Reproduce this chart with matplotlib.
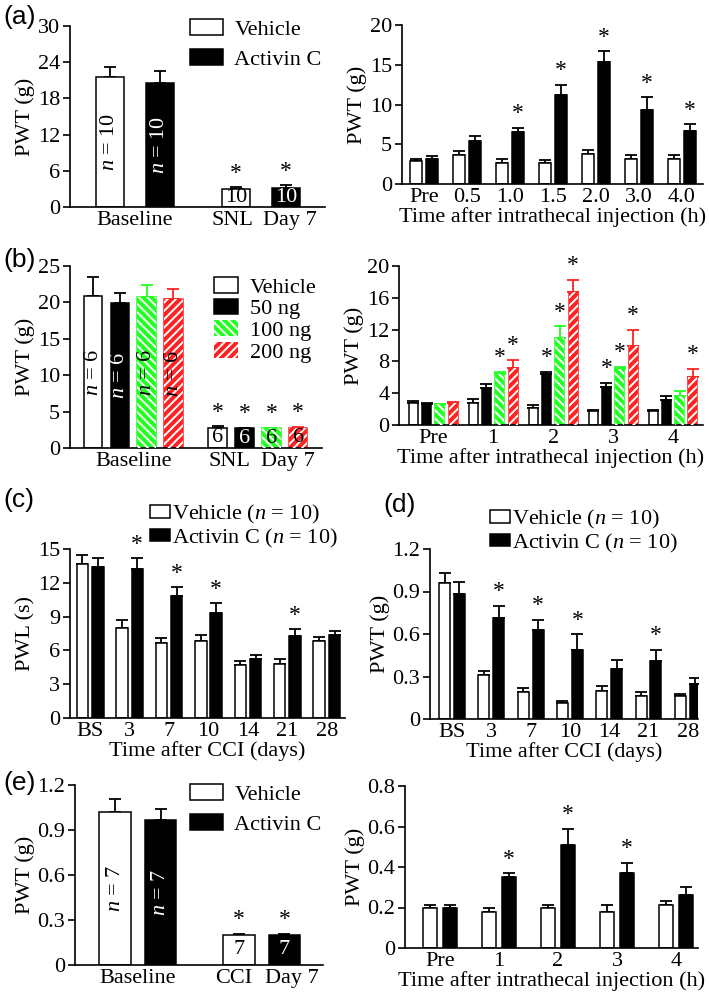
import matplotlib
matplotlib.use('Agg')
import matplotlib.pyplot as plt
from matplotlib.patches import Patch
import numpy as np

plt.rcParams['font.family'] = ['Liberation Serif', 'DejaVu Serif']
plt.rcParams['mathtext.fontset'] = 'custom'
plt.rcParams['mathtext.it'] = 'Liberation Serif:italic'
plt.rcParams['mathtext.rm'] = 'Liberation Serif'
plt.rcParams['hatch.linewidth'] = 1.4

FS = 16

# ---------------- data ----------------
# (a) left
a1_labels = ['Baseline', 'SNL', 'Day 7']
a1_veh = [21.5, 3.0]; a1_veh_err = [1.7, 0.3]
a1_act = [20.6, 3.2]; a1_act_err = [1.9, 0.4]
a1_n = 10
a1_yticks = [0, 6, 12, 18, 24, 30]
# (a) right
a2_times = ['Pre', '0.5', '1.0', '1.5', '2.0', '3.0', '4.0']
a2_veh = [2.9, 3.7, 2.7, 2.6, 3.8, 3.1, 3.2]
a2_veh_err = [0.3, 0.5, 0.4, 0.4, 0.5, 0.5, 0.4]
a2_act = [3.1, 5.4, 6.5, 11.2, 15.4, 9.3, 6.7]
a2_act_err = [0.4, 0.6, 0.6, 1.3, 1.3, 1.6, 0.8]
a2_star = [False, False, True, True, True, True, True]
a2_yticks = [0, 5, 10, 15, 20]
# (b) left
b_doses = ['Vehicle', '50 ng', '100 ng', '200 ng']
b1_base = [20.9, 19.9, 20.7, 20.4]; b1_base_err = [2.6, 1.4, 1.7, 1.4]
b1_snl = [2.8, 2.7, 2.7, 2.8]; b1_snl_err = [0.2, 0.1, 0.1, 0.1]
b1_n = 6
b1_yticks = [0, 5, 10, 15, 20, 25]
# (b) right
b2_times = ['Pre', '1', '2', '3', '4']
b2_vals = [[2.8, 2.8, 2.2, 1.7, 1.7],
           [2.7, 4.6, 6.4, 4.8, 3.2],
           [2.6, 6.4, 11.0, 7.0, 3.7],
           [2.8, 7.2, 16.7, 9.9, 6.1]]
b2_errs = [[0.2, 0.5, 0.3, 0.2, 0.2],
           [0.1, 0.6, 0.3, 0.5, 0.4],
           [0.1, 0.3, 1.4, 0.3, 0.6],
           [0.1, 1.0, 1.6, 2.1, 1.0]]
b2_star = [[False] * 5,
           [False, False, True, True, False],
           [False, True, True, True, False],
           [False, True, True, True, True]]
b2_yticks = [0, 4, 8, 12, 16, 20]
# (c)
cd_days = ['BS', '3', '7', '10', '14', '21', '28']
c_veh = [13.7, 8.0, 6.7, 6.8, 4.7, 4.8, 6.8]
c_veh_err = [0.8, 0.7, 0.4, 0.6, 0.4, 0.4, 0.4]
c_act = [13.4, 13.2, 10.8, 9.3, 5.2, 7.3, 7.4]
c_act_err = [0.8, 1.0, 0.8, 0.9, 0.4, 0.6, 0.3]
cd_star = [False, True, True, True, False, True, False]
c_yticks = [0, 3, 6, 9, 12, 15]
# (d)
d_veh = [0.96, 0.31, 0.19, 0.11, 0.20, 0.16, 0.16]
d_veh_err = [0.07, 0.03, 0.03, 0.02, 0.03, 0.03, 0.02]
d_act = [0.88, 0.71, 0.63, 0.49, 0.35, 0.41, 0.25]
d_act_err = [0.09, 0.09, 0.07, 0.11, 0.07, 0.08, 0.04]
d_yticks = [0, 0.3, 0.6, 0.9, 1.2]
d_yticklabels = ['0', '0.3', '0.6', '0.9', '1.2']
# (e) left
e1_labels = ['Baseline', 'CCI', 'Day 7']
e1_veh = [1.02, 0.20]; e1_veh_err = [0.09, 0.01]
e1_act = [0.97, 0.20]; e1_act_err = [0.07, 0.01]
e1_n = 7
# (e) right
e2_times = ['Pre', '1', '2', '3', '4']
e2_veh = [0.20, 0.18, 0.20, 0.18, 0.21]
e2_veh_err = [0.01, 0.02, 0.01, 0.03, 0.02]
e2_act = [0.20, 0.35, 0.51, 0.37, 0.26]
e2_act_err = [0.01, 0.02, 0.08, 0.05, 0.04]
e2_star = [False, True, True, True, False]
e2_yticks = [0, 0.2, 0.4, 0.6, 0.8]
e2_yticklabels = ['0', '0.2', '0.4', '0.6', '0.8']

# ---------------- styles ----------------
GREEN = '#22ff22'
RED = '#ff2222'
STY = {
    'veh': dict(fc='white', ec='black', hatch=None, err='black', txt='black'),
    'act': dict(fc='black', ec='black', hatch=None, err='black', txt='white'),
    'g': dict(fc=GREEN, ec=GREEN, hatch='\\\\\\\\', err=GREEN, txt='black'),
    'r': dict(fc=RED, ec=RED, hatch='////', err=RED, txt='black'),
}
dose_keys = ['veh', 'act', 'g', 'r']

W, H = 709, 994
fig = plt.figure(figsize=(W / 100, H / 100), dpi=100)


def add_ax(l, r, t, b):
    ax = fig.add_axes([l / W, 1 - b / H, (r - l) / W, (b - t) / H])
    for s in ['top', 'right']:
        ax.spines[s].set_visible(False)
    for s in ['left', 'bottom']:
        ax.spines[s].set_linewidth(1.2)
    ax.tick_params(axis='y', direction='out', length=5, width=1.2, labelsize=FS, pad=2)
    ax.tick_params(axis='x', length=0, labelsize=FS, pad=3)
    return ax


def bars(ax, x, y, err, key, width, stars=None):
    s = STY[key]
    x = np.atleast_1d(np.asarray(x, float))
    y = np.atleast_1d(np.asarray(y, float))
    err = np.atleast_1d(np.asarray(err, float))
    ax.bar(x, y, width, color=s['fc'], edgecolor=s['ec'], linewidth=1.1, zorder=2)
    if s['hatch']:
        ax.bar(x, y, width, color='none', edgecolor='white', linewidth=0,
               hatch=s['hatch'], zorder=3)
    ax.errorbar(x, y, yerr=[np.zeros_like(err), err], fmt='none', ecolor=s['err'],
                elinewidth=1.3, capsize=4, capthick=1.3, zorder=1)
    if stars is not None:
        for xi, yi, ei, st in zip(x, y, err, stars):
            if st:
                ax.annotate('*', xy=(xi, yi + ei), xytext=(0, 2.5), textcoords='offset points',
                            ha='center', va='bottom', fontsize=FS + 1)


def ylab(ax, text, pad=2):
    ax.set_ylabel(text, fontsize=FS, labelpad=pad)


def legend(handles, labels, x, y, hl=1.5, hh=0.75, ls=0.15, htp=0.5):
    fig.legend(handles, labels, loc='upper left', bbox_to_anchor=(x / W, 1 - y / H),
               frameon=False, fontsize=FS, handlelength=hl, handleheight=hh,
               labelspacing=ls, handletextpad=htp, borderpad=0, borderaxespad=0)


def h(key):
    s = STY[key]
    return Patch(facecolor=s['fc'], edgecolor='black' if key in ('veh', 'act') else 'white',
                 hatch=s['hatch'], linewidth=1.1 if key in ('veh', 'act') else 0)


# ---------------- (a) left ----------------
ax = add_ax(70, 325, 26, 207)
pos = [0, 2.52]
w = 0.56
bars(ax, pos, a1_veh, a1_veh_err, 'veh', w, stars=[False, True])
bars(ax, [p + 1 for p in pos], a1_act, a1_act_err, 'act', w, stars=[False, True])
ax.set_xlim(-0.8, 4.3)
ax.set_ylim(0, 30)
ax.set_yticks(a1_yticks)
ax.set_xticks([0.5, 2.45, 3.6])
ax.set_xticklabels(a1_labels)
ylab(ax, 'PWT (g)')
ax.text(0, a1_veh[0] / 2, r'$n$ = %d' % a1_n, rotation=90, ha='center', va='center', fontsize=FS, color='black', zorder=5)
ax.text(1, a1_act[0] / 2, r'$n$ = %d' % a1_n, rotation=90, ha='center', va='center', fontsize=FS, color='white', zorder=5)
ax.text(2.52, a1_veh[1] / 2, '%d' % a1_n, ha='center', va='center', fontsize=FS, color='black', zorder=5)
ax.text(3.52, a1_act[1] / 2, '%d' % a1_n, ha='center', va='center', fontsize=FS, color='white', zorder=5)
legend([h('veh'), h('act')], ['Vehicle', 'Activin C'], 190, 19, ls=0.4)

# ---------------- (a) right ----------------
ax = add_ax(402, 703, 25, 184)
g = np.arange(len(a2_times))
bars(ax, g - 0.19, a2_veh, a2_veh_err, 'veh', 0.27)
bars(ax, g + 0.19, a2_act, a2_act_err, 'act', 0.27, stars=a2_star)
ax.set_xlim(-0.51, 6.49)
ax.set_ylim(0, 20)
ax.set_yticks(a2_yticks)
ax.set_xticks(g)
ax.set_xticklabels(a2_times)
ylab(ax, 'PWT (g)')
ax.set_xlabel('Time after intrathecal injection (h)', fontsize=FS, labelpad=0)

# ---------------- (b) left ----------------
ax = add_ax(70, 322, 266, 448)
w = 0.69
for i, k in enumerate(dose_keys):
    bars(ax, [i, 4.65 + i], [b1_base[i], b1_snl[i]], [b1_base_err[i], b1_snl_err[i]], k, w,
         stars=[False, True])
    ax.text(i, b1_base[i] / 2, r'$n$ = %d' % b1_n, rotation=90, ha='center', va='center',
            fontsize=FS, color=STY[k]['txt'], zorder=5)
    ax.text(4.65 + i, b1_snl[i] / 2, '%d' % b1_n, ha='center', va='center',
            fontsize=FS, color=STY[k]['txt'], zorder=5)
ax.set_xlim(-0.86, 8.54)
ax.set_ylim(0, 25)
ax.set_yticks(b1_yticks)
ax.set_xticks([1.5, 5.1, 7.25])
ax.set_xticklabels(['Baseline', 'SNL', 'Day 7'])
ylab(ax, 'PWT (g)')
legend([h(k) for k in dose_keys], b_doses, 214, 277, hl=1.1, hh=0.7, ls=0.05, htp=0.5)

# ---------------- (b) right ----------------
ax = add_ax(399, 703, 266, 425)
g = np.arange(len(b2_times))
for i, k in enumerate(dose_keys):
    bars(ax, g + (i - 1.5) * 0.222, b2_vals[i], b2_errs[i], k, 0.15, stars=b2_star[i])
ax.set_xlim(-0.57, 4.5)
ax.set_ylim(0, 20)
ax.set_yticks(b2_yticks)
ax.set_xticks(g)
ax.set_xticklabels(b2_times)
ylab(ax, 'PWT (g)')
ax.set_xlabel('Time after intrathecal injection (h)', fontsize=FS, labelpad=0)

# ---------------- (c) ----------------
ax = add_ax(70, 345, 549, 718)
g = np.arange(len(cd_days))
bars(ax, g - 0.195, c_veh, c_veh_err, 'veh', 0.29)
bars(ax, g + 0.195, c_act, c_act_err, 'act', 0.29, stars=cd_star)
ax.set_xlim(-0.51, 6.46)
ax.set_ylim(0, 15)
ax.set_yticks(c_yticks)
ax.set_xticks(g)
ax.set_xticklabels(cd_days)
ylab(ax, 'PWL (s)')
ax.set_xlabel('Time after CCI (days)', fontsize=FS, labelpad=0)
legend([h('veh'), h('act')], [r'Vehicle ($n$ = 10)', r'Activin C ($n$ = 10)'], 150, 503,
       hl=0.9, hh=0.5, ls=0.02, htp=0.1)

# ---------------- (d) ----------------
ax = add_ax(430, 698, 549, 719)
bars(ax, g - 0.19, d_veh, d_veh_err, 'veh', 0.28)
bars(ax, g + 0.19, d_act, d_act_err, 'act', 0.28, stars=cd_star)
ax.set_xlim(-0.56, 6.26)
ax.set_ylim(0, 1.2)
ax.set_yticks(d_yticks)
ax.set_yticklabels(d_yticklabels)
ax.set_xticks(g)
ax.set_xticklabels(cd_days)
ylab(ax, 'PWT (g)')
ax.set_xlabel('Time after CCI (days)', fontsize=FS, labelpad=0)
legend([h('veh'), h('act')], [r'Vehicle ($n$ = 10)', r'Activin C ($n$ = 10)'], 490, 508,
       hl=0.9, hh=0.5, ls=0.02, htp=0.1)

# ---------------- (e) left ----------------
ax = add_ax(75, 323, 785, 965)
pos = [0, 2.66]
w = 0.68
bars(ax, pos, e1_veh, e1_veh_err, 'veh', w, stars=[False, True])
bars(ax, [p + 0.98 for p in pos], e1_act, e1_act_err, 'act', w, stars=[False, True])
ax.set_xlim(-0.86, 4.47)
ax.set_ylim(0, 1.2)
ax.set_yticks(d_yticks)
ax.set_yticklabels(d_yticklabels)
ax.set_xticks([0.49, 2.55, 3.8])
ax.set_xticklabels(e1_labels)
ylab(ax, 'PWT (g)')
ax.text(0, e1_veh[0] / 2, r'$n$ = %d' % e1_n, rotation=90, ha='center', va='center', fontsize=FS, color='black', zorder=5)
ax.text(0.98, e1_act[0] / 2, r'$n$ = %d' % e1_n, rotation=90, ha='center', va='center', fontsize=FS, color='white', zorder=5)
ax.text(2.66, e1_veh[1] / 2, '%d' % e1_n, ha='center', va='center', fontsize=FS, color='black', zorder=5)
ax.text(3.64, e1_act[1] / 2, '%d' % e1_n, ha='center', va='center', fontsize=FS, color='white', zorder=5)
legend([h('veh'), h('act')], ['Vehicle', 'Activin C'], 190, 784, ls=0.4)

# ---------------- (e) right ----------------
ax = add_ax(405, 698, 786, 948)
g = np.arange(len(e2_times))
bars(ax, g - 0.17, e2_veh, e2_veh_err, 'veh', 0.245)
bars(ax, g + 0.17, e2_act, e2_act_err, 'act', 0.245, stars=e2_star)
ax.set_xlim(-0.59, 4.37)
ax.set_ylim(0, 0.8)
ax.set_yticks(e2_yticks)
ax.set_yticklabels(e2_yticklabels)
ax.set_xticks(g)
ax.set_xticklabels(e2_times)
ylab(ax, 'PWT (g)')
ax.set_xlabel('Time after intrathecal injection (h)', fontsize=FS, labelpad=0)

# ---------------- panel labels ----------------
for lab, x, y in [('(a)', 3, 17), ('(b)', 3, 260), ('(c)', 3, 500), ('(d)', 383, 505), ('(e)', 3, 783)]:
    fig.text(x / W, 1 - y / H, lab, fontsize=19, family='Liberation Sans', ha='left', va='center')

fig.savefig('out.png', dpi=100)
